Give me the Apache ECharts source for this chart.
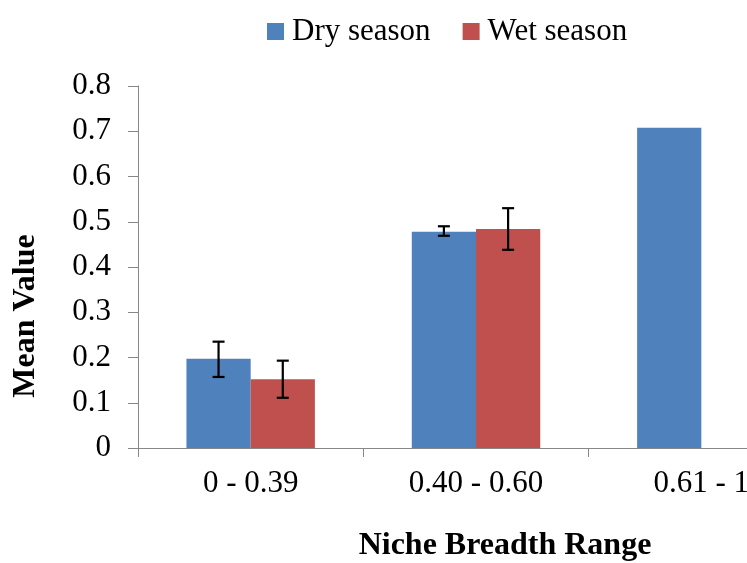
<!DOCTYPE html>
<html>
<head>
<meta charset="utf-8">
<script src="https://cdn.jsdelivr.net/npm/echarts@6/dist/echarts.min.js"></script>
<style>html,body{margin:0;padding:0;background:#fff;overflow:hidden;width:747px;height:563px;}#c{width:830px;height:563px;}</style>
</head>
<body>
<div id="c"></div>
<script>
var categories = ['0 - 0.39', '0.40 - 0.60', '0.61 - 1'];
var dryValues = [0.197, 0.478, 0.708];
var wetValues = [0.152, 0.484, null];
var dryErrLow = [0.157, 0.469, null];
var dryErrHigh = [0.235, 0.490, null];
var wetErrLow = [0.111, 0.438, null];
var wetErrHigh = [0.193, 0.530, null];
var yTicks = [0, 0.1, 0.2, 0.3, 0.4, 0.5, 0.6, 0.7, 0.8];

var FONT = '"Liberation Serif", "Times New Roman", serif';
var CAT_GAP = 0.43;

function errData(low, high) {
  var out = [];
  for (var i = 0; i < categories.length; i++) {
    if (low[i] != null && high[i] != null) out.push([i, low[i], high[i]]);
  }
  return out;
}

function errRenderer(side) {
  return function (params, api) {
    var idx = api.value(0);
    var lowP = api.coord([idx, api.value(1)]);
    var highP = api.coord([idx, api.value(2)]);
    var band = api.size([1, 0])[0];
    var bw = band * (1 - CAT_GAP) / 2;
    var x = lowP[0] + side * bw / 2;
    var cap = 6;
    var st = { stroke: '#000', lineWidth: 2.2 };
    return {
      type: 'group',
      children: [
        { type: 'line', shape: { x1: x, y1: highP[1], x2: x, y2: lowP[1] }, style: st },
        { type: 'line', shape: { x1: x - cap, y1: highP[1], x2: x + cap, y2: highP[1] }, style: st },
        { type: 'line', shape: { x1: x - cap, y1: lowP[1], x2: x + cap, y2: lowP[1] }, style: st }
      ]
    };
  };
}

var chart = echarts.init(document.getElementById('c'), null, { renderer: 'canvas' });
chart.setOption({
  animation: false,
  backgroundColor: '#fff',
  textStyle: { fontFamily: FONT },
  legend: {
    data: ['Dry season', 'Wet season'],
    left: 267,
    top: 16,
    padding: 0,
    itemWidth: 17,
    itemHeight: 17,
    itemGap: 32,
    icon: 'rect',
    textStyle: { fontFamily: FONT, fontSize: 31, color: '#000', padding: [0, 0, 0, 3] }
  },
  grid: { left: 138, top: 86, width: 676, height: 362, containLabel: false },
  xAxis: {
    type: 'category',
    data: categories,
    axisLine: { lineStyle: { color: '#878787', width: 1 } },
    axisTick: { show: true, length: 9, lineStyle: { color: '#878787' } },
    axisLabel: { interval: 0, fontFamily: FONT, fontSize: 31, color: '#000', margin: 20 },
    splitLine: { show: false }
  },
  yAxis: {
    type: 'value',
    min: yTicks[0],
    max: yTicks[yTicks.length - 1],
    interval: 0.1,
    axisLine: { show: true, lineStyle: { color: '#878787', width: 1 } },
    axisTick: { show: true, length: 10, lineStyle: { color: '#878787' } },
    axisLabel: { fontFamily: FONT, fontSize: 31, color: '#000', margin: 27,
      formatter: function (v) { return String(Math.round(v * 10) / 10); } },
    splitLine: { show: false }
  },
  graphic: [
    { type: 'text', x: 505, y: 546, style: { text: 'Niche Breadth Range', font: 'bold 32px ' + FONT, fill: '#000', textAlign: 'center', textVerticalAlign: 'middle' } },
    { type: 'text', x: 26, y: 316, rotation: Math.PI / 2, style: { text: 'Mean Value', font: 'bold 32px ' + FONT, fill: '#000', textAlign: 'center', textVerticalAlign: 'middle' } }
  ],
  series: [
    { name: 'Dry season', type: 'bar', data: dryValues, barGap: '0%', barCategoryGap: (CAT_GAP * 100) + '%', itemStyle: { color: '#4F81BD' } },
    { name: 'Wet season', type: 'bar', data: wetValues, barGap: '0%', barCategoryGap: (CAT_GAP * 100) + '%', itemStyle: { color: '#C0504D' } },
    { name: 'dryErr', type: 'custom', data: errData(dryErrLow, dryErrHigh), renderItem: errRenderer(-1), z: 10, encode: { x: 0, y: [1, 2] } },
    { name: 'wetErr', type: 'custom', data: errData(wetErrLow, wetErrHigh), renderItem: errRenderer(1), z: 10, encode: { x: 0, y: [1, 2] } }
  ]
});
</script>
</body>
</html>
